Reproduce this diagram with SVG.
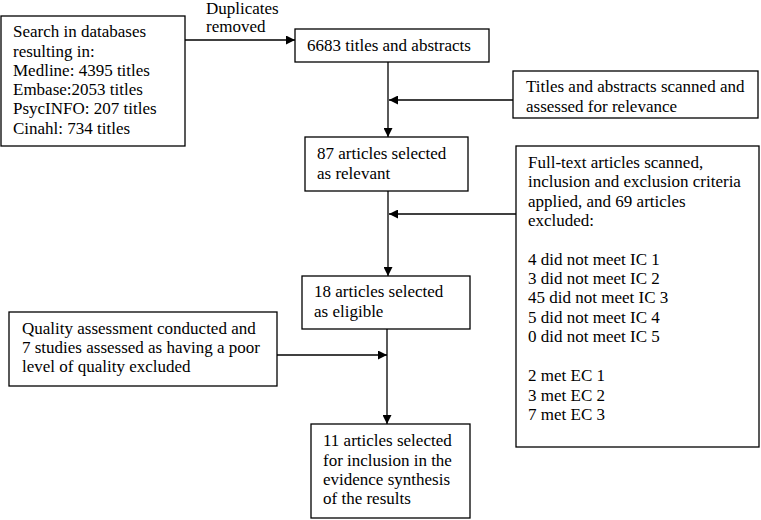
<svg xmlns="http://www.w3.org/2000/svg" width="761" height="520" viewBox="0 0 761 520">
<style>
rect{fill:#fff;stroke:#000;stroke-width:1.3}
text{font-family:'Liberation Serif','Times New Roman','DejaVu Serif',serif;font-size:17px;fill:#000}
.c line{stroke:#000;stroke-width:1.3}
</style>
<defs>
<marker id="ah" viewBox="0 0 10 10" refX="10" refY="5" markerWidth="9" markerHeight="9" markerUnits="userSpaceOnUse" orient="auto">
<path d="M0,0 L10,5 L0,10 Z" fill="#000"/>
</marker>
</defs>
<g class="c" id="connectors">
<line x1="185" y1="40" x2="295" y2="40" marker-end="url(#ah)"/>
<line x1="388" y1="62" x2="388" y2="137" marker-end="url(#ah)"/>
<line x1="513" y1="100" x2="389" y2="100" marker-end="url(#ah)"/>
<line x1="388" y1="191" x2="388" y2="276" marker-end="url(#ah)"/>
<line x1="516" y1="214" x2="389" y2="214" marker-end="url(#ah)"/>
<line x1="387" y1="329" x2="387" y2="424" marker-end="url(#ah)"/>
<line x1="277" y1="355" x2="387" y2="355" marker-end="url(#ah)"/>
<text x="206" y="14">Duplicates</text>
<text x="206" y="32">removed</text>
</g>
<g id="search">
<rect x="1" y="16" width="184" height="130"/>
<text x="13" y="37">Search in databases</text>
<text x="13" y="57">resulting in:</text>
<text x="13" y="76">Medline: 4395 titles</text>
<text x="13" y="95">Embase:2053 titles</text>
<text x="13" y="114">PsycINFO: 207 titles</text>
<text x="13" y="134">Cinahl: 734 titles</text>
</g>
<g id="titles">
<rect x="295" y="29" width="194" height="33"/>
<text x="307" y="51">6683 titles and abstracts</text>
</g>
<g id="scan">
<rect x="513" y="71" width="245" height="47"/>
<text x="526" y="92">Titles and abstracts scanned and</text>
<text x="526" y="112">assessed for relevance</text>
</g>
<g id="relevant">
<rect x="305" y="137" width="163" height="54"/>
<text x="317" y="159">87 articles selected</text>
<text x="317" y="179">as relevant</text>
</g>
<g id="fulltext">
<rect x="516" y="146" width="243" height="301"/>
<text x="528" y="168">Full-text articles scanned,</text>
<text x="528" y="187">inclusion and exclusion criteria</text>
<text x="528" y="207">applied, and 69 articles</text>
<text x="528" y="226">excluded:</text>
<text x="528" y="265">4 did not meet IC 1</text>
<text x="528" y="284">3 did not meet IC 2</text>
<text x="528" y="303">45 did not meet IC 3</text>
<text x="528" y="323">5 did not meet IC 4</text>
<text x="528" y="342">0 did not meet IC 5</text>
<text x="528" y="381">2 met EC 1</text>
<text x="528" y="401">3 met EC 2</text>
<text x="528" y="420">7 met EC 3</text>
</g>
<g id="eligible">
<rect x="302" y="276" width="168" height="53"/>
<text x="314" y="297">18 articles selected</text>
<text x="314" y="317">as eligible</text>
</g>
<g id="quality">
<rect x="9" y="312" width="268" height="74"/>
<text x="22" y="334">Quality assessment conducted and</text>
<text x="22" y="353">7 studies assessed as having a poor</text>
<text x="22" y="372">level of quality excluded</text>
</g>
<g id="included">
<rect x="311" y="424" width="159" height="94"/>
<text x="323" y="446">11 articles selected</text>
<text x="323" y="466">for inclusion in the</text>
<text x="323" y="485">evidence synthesis</text>
<text x="323" y="504">of the results</text>
</g>
</svg>
